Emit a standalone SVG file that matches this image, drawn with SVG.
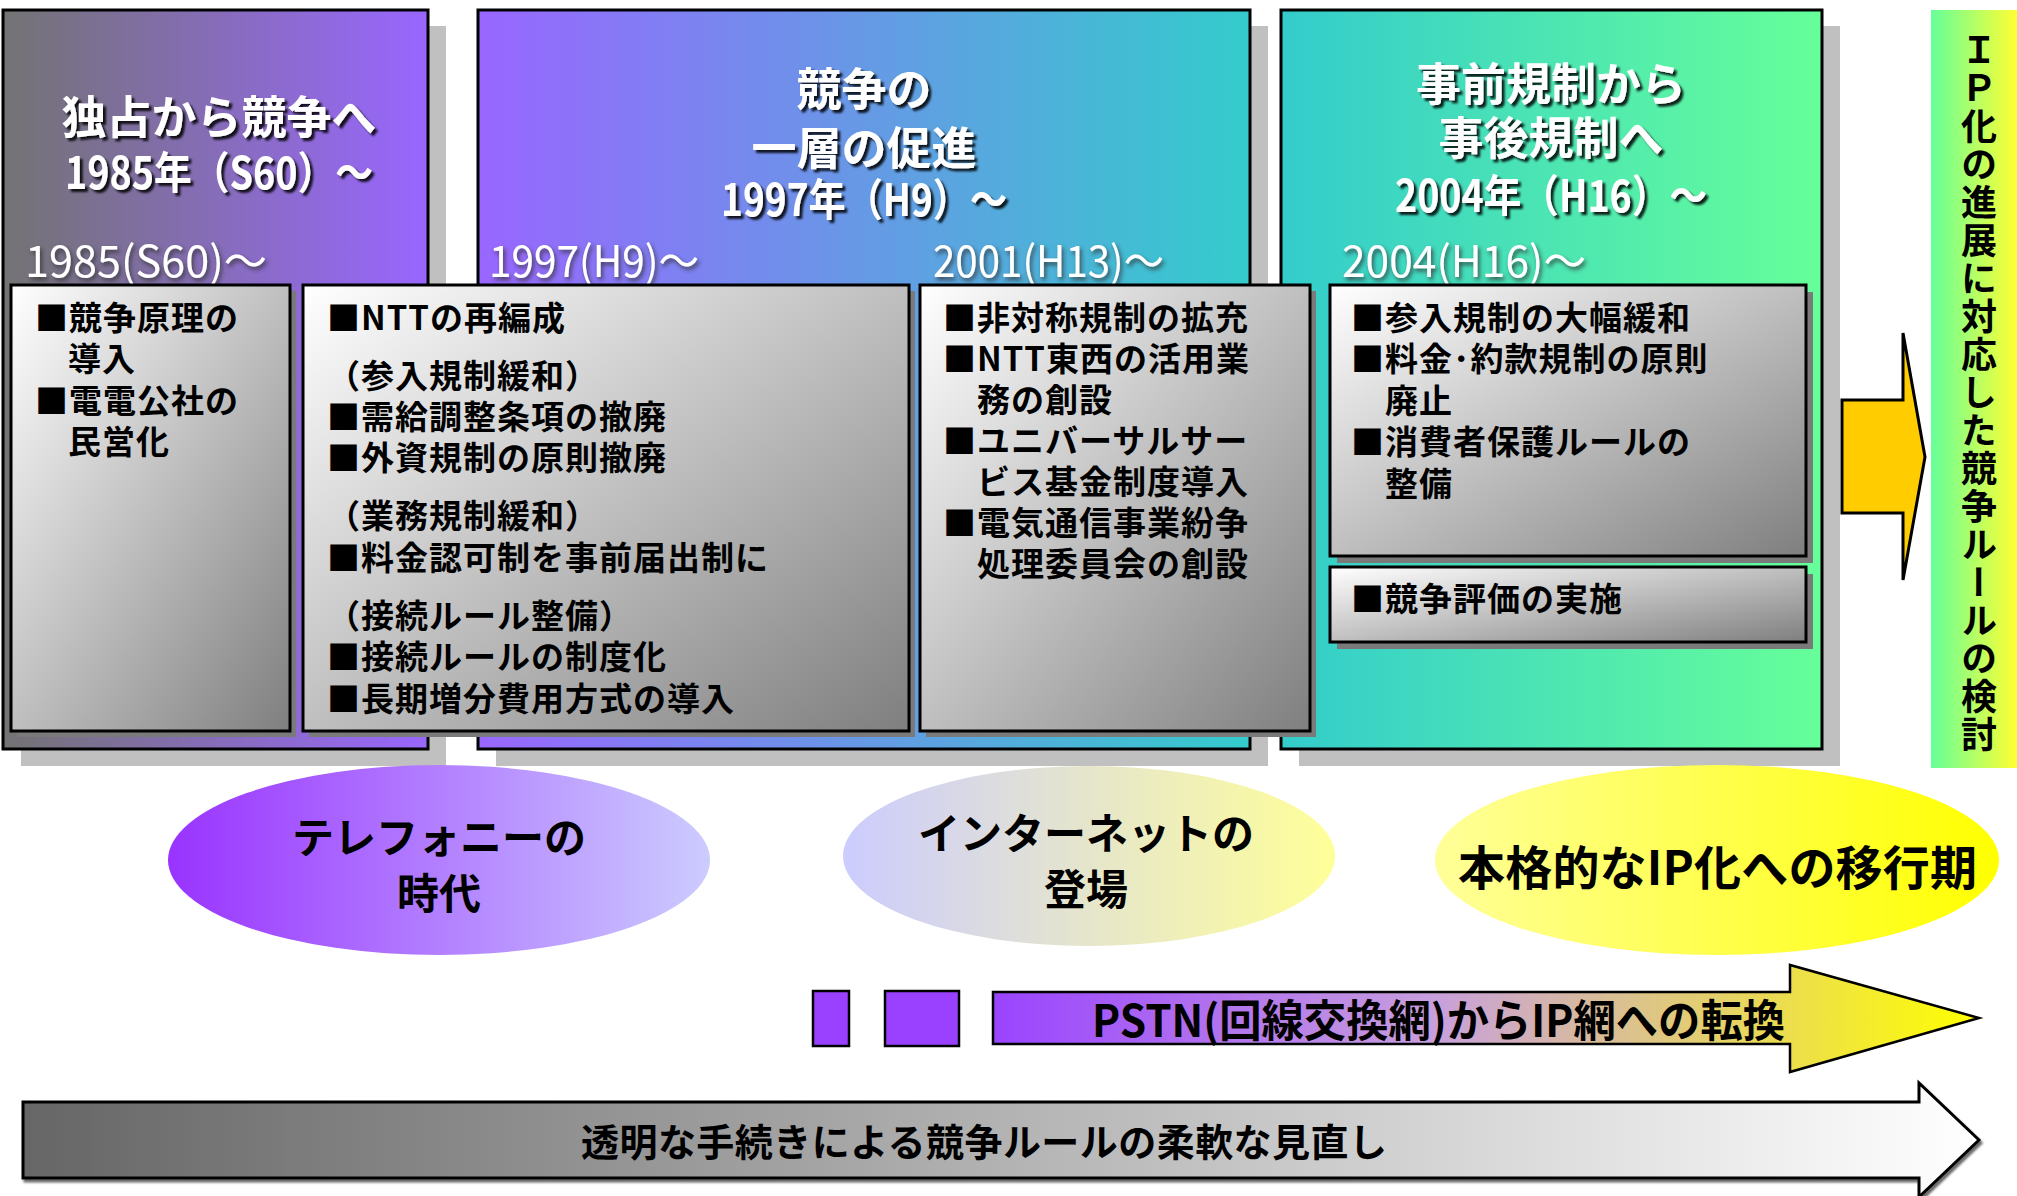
<svg xmlns="http://www.w3.org/2000/svg" width="2017" height="1196" viewBox="0 0 2017 1196">
<defs>
  <linearGradient id="gP1" x1="0" y1="0" x2="1" y2="0"><stop offset="0" stop-color="#737373"/><stop offset="1" stop-color="#9966ff"/></linearGradient>
  <linearGradient id="gP2" x1="0" y1="0" x2="1" y2="0"><stop offset="0" stop-color="#9966ff"/><stop offset="1" stop-color="#33cccc"/></linearGradient>
  <linearGradient id="gP3" x1="0" y1="0" x2="1" y2="0"><stop offset="0" stop-color="#33cccc"/><stop offset="1" stop-color="#66ff99"/></linearGradient>
  <linearGradient id="gStrip" x1="0" y1="0" x2="1" y2="0"><stop offset="0" stop-color="#66ff99"/><stop offset="1" stop-color="#ffff33"/></linearGradient>
  <linearGradient id="gBox" x1="0" y1="0" x2="1" y2="1"><stop offset="0" stop-color="#ffffff"/><stop offset="1" stop-color="#7f7f7f"/></linearGradient>
  <linearGradient id="gE1" x1="0" y1="0" x2="1" y2="0"><stop offset="0" stop-color="#9933ff"/><stop offset="1" stop-color="#ccccff"/></linearGradient>
  <linearGradient id="gE2" x1="0" y1="0" x2="1" y2="0"><stop offset="0" stop-color="#ccccff"/><stop offset="1" stop-color="#ffff99"/></linearGradient>
  <linearGradient id="gE3" x1="0" y1="0" x2="1" y2="0"><stop offset="0" stop-color="#ffff99"/><stop offset="1" stop-color="#ffff00"/></linearGradient>
  <linearGradient id="gPstn" gradientUnits="userSpaceOnUse" x1="993" y1="0" x2="1979" y2="0"><stop offset="0" stop-color="#9a44ff"/><stop offset="0.45" stop-color="#c8a0dc"/><stop offset="1" stop-color="#ffff00"/></linearGradient>
  <linearGradient id="gFlex" gradientUnits="userSpaceOnUse" x1="23" y1="0" x2="1979" y2="0"><stop offset="0" stop-color="#666666"/><stop offset="1" stop-color="#ffffff"/></linearGradient>
  <filter id="fTitle" x="-10%" y="-30%" width="120%" height="160%"><feDropShadow dx="3" dy="3" stdDeviation="1" flood-color="#000" flood-opacity="0.85"/></filter>
  <filter id="fSub" x="-10%" y="-30%" width="120%" height="160%"><feDropShadow dx="2" dy="3" stdDeviation="2" flood-color="#333" flood-opacity="0.8"/></filter>
  <filter id="fArrow" x="-5%" y="-20%" width="110%" height="140%"><feDropShadow dx="2" dy="3" stdDeviation="1" flood-color="#444" flood-opacity="0.8"/></filter>
</defs>
<style>
  text { font-family: "Noto Sans CJK JP", "Liberation Sans", sans-serif; }
  .title { fill: #fff; font-weight: bold; font-size: 45px; text-anchor: middle; filter: url(#fTitle); }
  .year { fill: #fff; font-weight: bold; font-size: 44px; filter: url(#fTitle); }
  .sub { fill: #fff; font-size: 43px; filter: url(#fSub); }
  .item { fill: #000; font-weight: bold; font-size: 33px; letter-spacing: 1px; }
  .ell { fill: #000; font-weight: bold; font-size: 42px; text-anchor: middle; }
  .period { stroke: #000; stroke-width: 3; }
  .pshadow { fill: #c0c0c0; }
  .box { fill: url(#gBox); stroke: #000; stroke-width: 3; }
  .bshadow { fill: #7a7a7a; }
</style>

<g id="period1">
  <rect class="pshadow" x="21" y="26" width="425" height="740"/>
  <rect class="period" x="3" y="10" width="425" height="739" fill="url(#gP1)"/>
  <text class="title" x="219" y="134">独占から競争へ</text>
  <text class="year" x="65" y="189" textLength="308" lengthAdjust="spacingAndGlyphs">1985年（S60）〜</text>
  <text class="sub" x="25" y="277" textLength="242" lengthAdjust="spacingAndGlyphs">1985(S60)〜</text>
</g>

<g id="period2">
  <rect class="pshadow" x="496" y="26" width="772" height="740"/>
  <rect class="period" x="478" y="10" width="772" height="739" fill="url(#gP2)"/>
  <text class="title" x="864" y="106">競争の</text>
  <text class="title" x="864" y="165">一層の促進</text>
  <text class="year" x="721" y="216" textLength="286" lengthAdjust="spacingAndGlyphs">1997年（H9）〜</text>
  <text class="sub" x="489" y="277" textLength="210" lengthAdjust="spacingAndGlyphs">1997(H9)〜</text>
  <text class="sub" x="933" y="277" textLength="231" lengthAdjust="spacingAndGlyphs">2001(H13)〜</text>
</g>

<g id="period3">
  <rect class="pshadow" x="1299" y="26" width="541" height="740"/>
  <rect class="period" x="1281" y="10" width="541" height="739" fill="url(#gP3)"/>
  <text class="title" x="1551" y="101">事前規制から</text>
  <text class="title" x="1551" y="155">事後規制へ</text>
  <text class="year" x="1395" y="212" textLength="312" lengthAdjust="spacingAndGlyphs">2004年（H16）〜</text>
  <text class="sub" x="1342" y="277" textLength="244" lengthAdjust="spacingAndGlyphs">2004(H16)〜</text>
</g>

<g id="boxA">
  <rect class="bshadow" x="17" y="291" width="279" height="446"/>
  <rect class="box" x="11" y="285" width="279" height="446"/>
  <text class="item" x="35" y="330">■競争原理の</text>
  <text class="item" x="68" y="371">導入</text>
  <text class="item" x="35" y="413">■電電公社の</text>
  <text class="item" x="68" y="454">民営化</text>
</g>

<g id="boxB">
  <rect class="bshadow" x="309" y="291" width="606" height="446"/>
  <rect class="box" x="303" y="285" width="606" height="446"/>
  <text class="item" x="327" y="330">■NTTの再編成</text>
  <text class="item" x="327" y="388">（参入規制緩和）</text>
  <text class="item" x="327" y="429">■需給調整条項の撤廃</text>
  <text class="item" x="327" y="470">■外資規制の原則撤廃</text>
  <text class="item" x="327" y="528">（業務規制緩和）</text>
  <text class="item" x="327" y="570">■料金認可制を事前届出制に</text>
  <text class="item" x="327" y="628">（接続ルール整備）</text>
  <text class="item" x="327" y="669">■接続ルールの制度化</text>
  <text class="item" x="327" y="711">■長期増分費用方式の導入</text>
</g>

<g id="boxC">
  <rect class="bshadow" x="926" y="291" width="390" height="446"/>
  <rect class="box" x="920" y="285" width="390" height="446"/>
  <text class="item" x="943" y="330">■非対称規制の拡充</text>
  <text class="item" x="943" y="371">■NTT東西の活用業</text>
  <text class="item" x="977" y="412">務の創設</text>
  <text class="item" x="943" y="453">■ユニバーサルサー</text>
  <text class="item" x="977" y="494">ビス基金制度導入</text>
  <text class="item" x="943" y="535">■電気通信事業紛争</text>
  <text class="item" x="977" y="576">処理委員会の創設</text>
</g>

<g id="boxD">
  <rect class="bshadow" x="1337" y="292" width="476" height="271"/>
  <rect class="box" x="1330" y="285" width="476" height="271"/>
  <text class="item" x="1351" y="330">■参入規制の大幅緩和</text>
  <text class="item" x="1351" y="371">■料金･約款規制の原則</text>
  <text class="item" x="1385" y="413">廃止</text>
  <text class="item" x="1351" y="454">■消費者保護ルールの</text>
  <text class="item" x="1385" y="496">整備</text>
</g>

<g id="boxE">
  <rect class="bshadow" x="1337" y="574" width="476" height="75"/>
  <rect class="box" x="1330" y="567" width="476" height="75"/>
  <text class="item" x="1351" y="611">■競争評価の実施</text>
</g>

<g id="ipStrip">
  <rect x="1931" y="10" width="86" height="758" fill="url(#gStrip)"/>
  <text x="1979" y="32" style="writing-mode: vertical-rl; font-weight: bold; font-size: 36px; fill: #000;" textLength="720" lengthAdjust="spacing">ＩＰ化の進展に対応した競争ルールの検討</text>
</g>

<g id="ellipse1">
  <ellipse cx="439" cy="860" rx="271" ry="95" fill="url(#gE1)"/>
  <text class="ell" x="439" y="853">テレフォニーの</text>
  <text class="ell" x="439" y="909">時代</text>
</g>
<g id="ellipse2">
  <ellipse cx="1089" cy="856" rx="246" ry="90" fill="url(#gE2)"/>
  <text class="ell" x="1086" y="849" font-size="40">インターネットの</text>
  <text class="ell" x="1086" y="905">登場</text>
</g>
<g id="ellipse3">
  <ellipse cx="1717" cy="860" rx="282" ry="95" fill="url(#gE3)"/>
  <text class="ell" x="1458" y="885" style="text-anchor: start; font-size: 47px;" textLength="519" lengthAdjust="spacing">本格的なIP化への移行期</text>
</g>

<g id="connectors">
  <polygon points="1842,400 1903,400 1903,333 1925,457 1903,580 1903,513 1842,513" fill="#ffcc00" stroke="#000" stroke-width="3" stroke-linejoin="miter"/>
</g>

<g id="pstnArrow">
  <rect x="813" y="991" width="36" height="55" fill="#9a40ff" stroke="#000" stroke-width="2.5"/>
  <rect x="885" y="991" width="74" height="55" fill="#9a40ff" stroke="#000" stroke-width="2.5"/>
  <polygon points="993,992 1790,992 1790,965 1979,1018 1790,1072 1790,1044 993,1044" fill="url(#gPstn)" stroke="#000" stroke-width="2.5"/>
  <text x="1092" y="1037" style="font-weight: bold; font-size: 44px; fill: #000;" textLength="693" lengthAdjust="spacingAndGlyphs">PSTN(回線交換網)からIP網への転換</text>
</g>

<g id="flexArrow">
  <polygon points="23,1102 1919,1102 1919,1083 1979,1140 1919,1197 1919,1178 23,1178" fill="url(#gFlex)" stroke="#000" stroke-width="3" filter="url(#fArrow)"/>
  <text x="581" y="1156" style="font-weight: bold; font-size: 38px; fill: #000;" textLength="806" lengthAdjust="spacing">透明な手続きによる競争ルールの柔軟な見直し</text>
</g>
</svg>
